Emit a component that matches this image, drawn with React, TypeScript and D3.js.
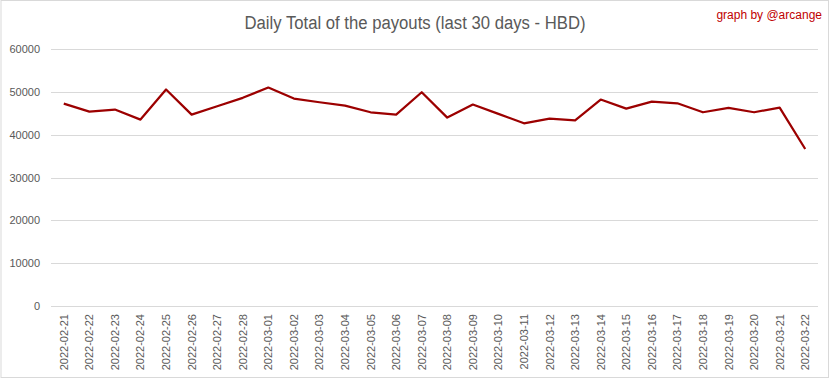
import React from "react";
import * as d3 from "d3";

const dates = [
  "2022-02-21","2022-02-22","2022-02-23","2022-02-24","2022-02-25","2022-02-26","2022-02-27","2022-02-28",
  "2022-03-01","2022-03-02","2022-03-03","2022-03-04","2022-03-05","2022-03-06","2022-03-07","2022-03-08",
  "2022-03-09","2022-03-10","2022-03-11","2022-03-12","2022-03-13","2022-03-14","2022-03-15","2022-03-16",
  "2022-03-17","2022-03-18","2022-03-19","2022-03-20","2022-03-21","2022-03-22",
];
const payouts = [
  47260, 45390, 45860, 43520, 50540, 44690, 46630, 48600,
  51000, 48430, 47570, 46800, 45230, 44690, 49900, 43990,
  47030, 44850, 42650, 43750, 43360, 48200, 46090, 47730,
  47330, 45230, 46250, 45230, 46330, 36660,
];
const yTicks = [0, 10000, 20000, 30000, 40000, 50000, 60000];
const title = "Daily Total of the payouts (last 30 days - HBD)";
const credit = "graph by @arcange";

const W = 833, H = 379;
const M = { left: 51, right: 818, top: 49, bottom: 306 };

export default function App() {
  const x = d3.scaleBand<string>().domain(dates).range([M.left, M.right]);
  const y = d3.scaleLinear().domain([0, 60000]).range([M.bottom, M.top]);
  const line = d3.line<number>()
    .x((_, i) => (x(dates[i]) as number) + x.bandwidth() / 2)
    .y((d) => y(d));
  const font = "'Liberation Sans', Arial, sans-serif";
  return (
    <svg width={W} height={H} style={{ position: "absolute", left: 0, top: 0 }} fontFamily={font}>
      <rect x={0} y={0} width={W} height={H} fill="#fff" />
      <rect x={1} y={0.5} width={827.5} height={377} fill="none" stroke="#d9d9d9" strokeWidth={1} />
      <text x={415} y={29} textAnchor="middle" fontSize={18} fill="#595959" textLength={341} lengthAdjust="spacingAndGlyphs">{title}</text>
      <text x={822} y={19} textAnchor="end" fontSize={12} fill="#c00000">{credit}</text>
      {yTicks.map((t) => (
        <g key={t}>
          <line x1={M.left} x2={M.right} y1={Math.round(y(t)) + 0.5} y2={Math.round(y(t)) + 0.5} stroke="#d9d9d9" strokeWidth={1} />
          <text x={40} y={y(t) + 4} textAnchor="end" fontSize={11} fill="#595959">{t}</text>
        </g>
      ))}
      {dates.map((d) => {
        const cx = (x(d) as number) + x.bandwidth() / 2;
        return (
          <text key={d} transform={`translate(${cx + 4},314) rotate(-90)`} textAnchor="end" fontSize={11} fill="#595959">{d}</text>
        );
      })}
      <path d={line(payouts) || ""} fill="none" stroke="#9c0000" strokeWidth={2.25} strokeLinejoin="round" />
    </svg>
  );
}
